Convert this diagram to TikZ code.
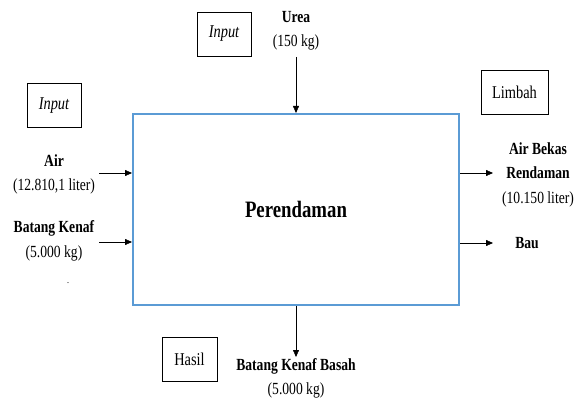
\documentclass[tikz,border=0pt]{standalone}
\usepackage{fontspec}
\setmainfont{Liberation Serif}[FakeStretch=0.8]
\usetikzlibrary{positioning,arrows.meta}
\usepackage{xcolor}
\definecolor{boxblue}{RGB}{91,155,213}

\begin{document}
\begin{tikzpicture}[
    x=1pt, y=-1pt,
    txt/.style={align=center, inner sep=0pt, font=\fontsize{17}{24.5}\selectfont},
    tag/.style={draw, thin, minimum width=54pt, minimum height=44pt, inner sep=2pt, font=\fontsize{18}{18}\selectfont},
    proses/.style={draw=boxblue, line width=2pt, minimum width=326pt, minimum height=191pt, font=\bfseries\fontsize{23.5}{24}\selectfont},
    arrow/.style={-{Triangle[length=7pt,width=6pt]}, thin}
]
\useasboundingbox (0,0) rectangle (581,401);

\node[proses] (rendam) at (296,209.5) {Perendaman};

% kotak keterangan
\node[tag] (input1) at (224,34) {\itshape Input};
\node[tag] (input2) at (54,105.5) {\itshape Input};
\node[tag, minimum width=67pt] (limbah) at (514.5,92.5) {Limbah};
\node[tag, minimum width=55pt] (hasil) at (189.5,359.5) {Hasil};

% bahan masuk
\node[txt] (urea) at (296,31) {\textbf{Urea}\\(150 kg)};
\node[txt] (air) at (54,174.5) {\textbf{Air}\\(12.810,1 liter)};
\node[txt] (kenaf) at (54,241) {\textbf{Batang Kenaf}\\(5.000 kg)};
\node[txt, font=\fontsize{10}{12}\selectfont] (titik) at (68,283) {.};

% keluaran
\node[txt] (bekas) at (538,174.5) {\textbf{Air Bekas}\\\textbf{Rendaman}\\(10.150 liter)};
\node[txt] (bau) at (527,243) {\textbf{Bau}};
\node[txt] (basah) at (296,378.5) {\textbf{Batang Kenaf Basah}\\(5.000 kg)};

\coordinate (ureaIn) at (296,57);
\coordinate (airIn) at (99,173);
\coordinate (kenafIn) at (99,242);
\coordinate (bekasOut) at (493,173);
\coordinate (bauOut) at (493,243);
\coordinate (basahOut) at (296,357);

\draw[arrow] (ureaIn) -- (rendam.north);
\draw[arrow] (airIn) -- (rendam.west |- airIn);
\draw[arrow] (kenafIn) -- (rendam.west |- kenafIn);
\draw[arrow] (rendam.east |- bekasOut) -- (bekasOut);
\draw[arrow] (rendam.east |- bauOut) -- (bauOut);
\draw[arrow] (rendam.south) -- (basahOut);

\end{tikzpicture}
\end{document}
